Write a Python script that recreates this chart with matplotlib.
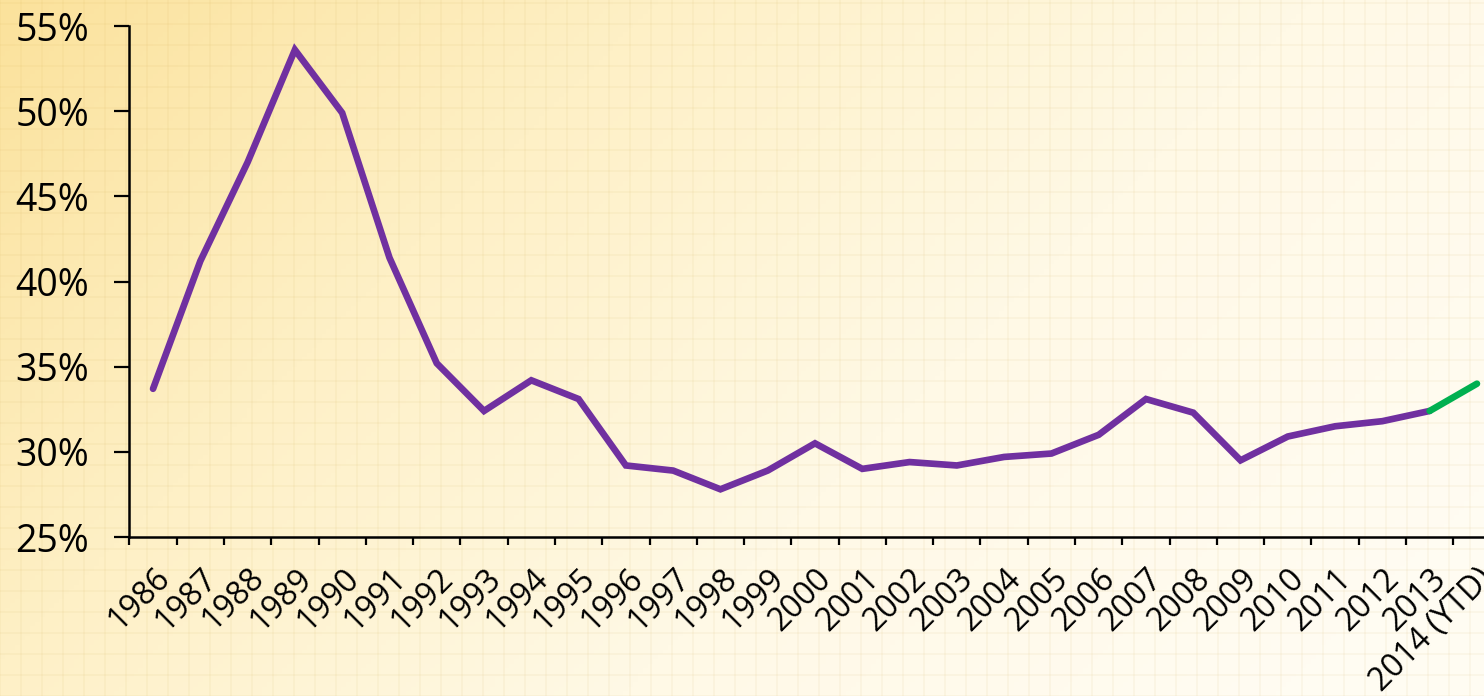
import matplotlib
matplotlib.use("Agg")
import matplotlib.pyplot as plt
import numpy as np
from matplotlib.colors import LinearSegmentedColormap

years = ["1986", "1987", "1988", "1989", "1990", "1991", "1992", "1993", "1994", "1995",
         "1996", "1997", "1998", "1999", "2000", "2001", "2002", "2003", "2004", "2005",
         "2006", "2007", "2008", "2009", "2010", "2011", "2012", "2013", "2014 (YTD)"]
values = [33.7, 41.2, 47.0, 53.6, 49.9, 41.4, 35.2, 32.4, 34.2, 33.1,
          29.2, 28.9, 27.8, 28.9, 30.5, 29.0, 29.4, 29.2, 29.7, 29.9,
          31.0, 33.1, 32.3, 29.5, 30.9, 31.5, 31.8, 32.4, 34.0]
y_ticks = [25, 30, 35, 40, 45, 50, 55]
y_labels = ["25%", "30%", "35%", "40%", "45%", "50%", "55%"]

plt.rcParams['font.family'] = ['Open Sans', 'DejaVu Sans']

W, H = 1484, 696
fig = plt.figure(figsize=(W / 100, H / 100), dpi=100)

# background gradient
bg = fig.add_axes([0, 0, 1, 1])
bg.set_axis_off()
xx = np.linspace(0, 1, 300)
yy = np.linspace(0, 1, 150)
X, Y = np.meshgrid(xx, yy)
t = np.clip(0.75 * X + 0.35 * Y, 0, 1)
cmap = LinearSegmentedColormap.from_list("bgc", ["#FBE29C", "#FEF0C6", "#FFF9E6", "#FFFCF2"])
bg.imshow(t, cmap=cmap, aspect='auto', extent=[0, 1, 0, 1], origin='upper', vmin=0, vmax=1)
for gx in np.arange(0, 1, 21 / W):
    bg.axvline(gx, color="#C8A040", alpha=0.07, lw=1.2)
for gy in np.arange(0, 1, 21 / H):
    bg.axhline(gy, color="#C8A040", alpha=0.07, lw=1.2)
bg.set_xlim(0, 1)
bg.set_ylim(0, 1)

ax = fig.add_axes([129.4 / W, 1 - 537 / H, 1371.2 / W, 511 / H])
ax.patch.set_alpha(0)
xs = np.arange(len(years))
ax.plot(xs[:-1], values[:-1], color="#7030A0", lw=4.8, solid_joinstyle='miter', solid_capstyle='round')
ax.plot(xs[-2:], values[-2:], color="#00B050", lw=4.8, solid_capstyle='round')

ax.set_xlim(-0.5, len(years) - 0.5)
ax.set_ylim(25, 55)
ax.set_yticks(y_ticks)
ax.set_yticklabels(y_labels, fontsize=27)
ax.set_xticks(xs)
ax.set_xticklabels(years, rotation=45, ha='right', va='top', rotation_mode='anchor', fontsize=23)
ax.set_xticks(np.arange(-0.5, len(years), 1), minor=True)
ax.tick_params(axis='x', which='major', length=0, pad=18)
ax.tick_params(axis='x', which='minor', length=6, width=1.6, direction='out')
ax.tick_params(axis='y', length=11, width=1.6, direction='out', pad=18)
for s in ['top', 'right']:
    ax.spines[s].set_visible(False)
for s in ['left', 'bottom']:
    ax.spines[s].set_linewidth(1.8)

fig.savefig("out.png", dpi=100)
